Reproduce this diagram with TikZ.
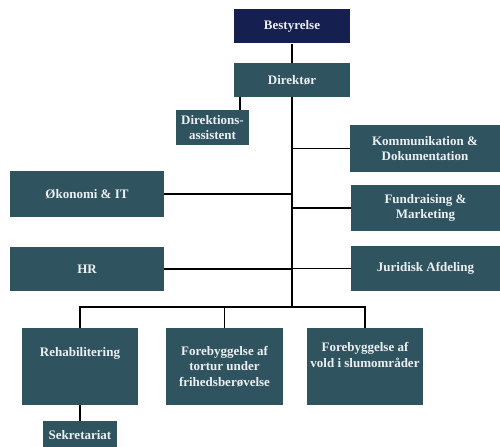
\documentclass[tikz,border=0pt]{standalone}
\usepackage{fontspec}
\setmainfont{Liberation Serif}
\usetikzlibrary{positioning, calc}

\definecolor{boardblue}{RGB}{22,32,80}
\definecolor{unitteal}{RGB}{47,83,95}
\definecolor{unittext}{RGB}{236,239,241}

\begin{document}
\begin{tikzpicture}[x=0.02cm, y=-0.02cm,
    font=\fontsize{7.4}{9}\selectfont\bfseries,
    unit/.style={fill=unitteal, text=unittext, align=center, inner sep=0pt},
    link/.style={draw=black, line width=1pt}]

% Manually size the picture
\useasboundingbox (0, 0) rectangle (500, 446);

% Top of the tree
\node[unit, fill=boardblue, minimum width=2.32cm, minimum height=0.7cm] (board) at (292, 26) {Bestyrelse};
\node[unit, minimum width=2.32cm, minimum height=0.68cm] (dir) at (292, 80) {Direktør};
\draw[link] (board) -- (dir);

% Assistant under the director
\node[unit, minimum width=1.46cm, minimum height=0.7cm] (assist) at (212.5, 127.5) {Direktions-\\assistent};
\draw[link] ([xshift=0.55cm]assist.north) -- ([xshift=0.55cm]assist.north |- dir.south);

% Spine down to the bus
\coordinate (bus) at (292, 307);
\draw[link] (dir.south) -- (bus);

% Staff units, right side
\node[unit, minimum width=3cm, minimum height=0.94cm] (komm) at (425, 148.5) {Kommunikation \&\\Dokumentation};
\node[unit, minimum width=2.98cm, minimum height=0.92cm] (fund) at (425.5, 208) {Fundraising \&\\Marketing};
\node[unit, minimum width=2.98cm, minimum height=0.9cm] (jur) at (425.5, 268.5) {Juridisk Afdeling};
\foreach \n in {komm, fund, jur}
  \draw[link] (\n.west) -- (\n.west -| bus);

% Staff units, left side
\node[unit, minimum width=3.08cm, minimum height=0.92cm] (okon) at (87, 194) {Økonomi \& IT};
\node[unit, minimum width=3.08cm, minimum height=0.9cm] (hr) at (87, 269) {HR};
\foreach \n in {okon, hr}
  \draw[link] (\n.east) -- (\n.east -| bus);

% Line units
\node[unit, minimum width=2.32cm, minimum height=1.54cm, text depth=17pt] (rehab) at (80, 366.5) {Rehabilitering};
\node[unit, minimum width=2.34cm, minimum height=1.54cm] (tortur) at (224.5, 366.5) {Forebyggelse af\\tortur under\\frihedsberøvelse};
\node[unit, minimum width=2.32cm, minimum height=1.54cm, text depth=13pt] (vold) at (365, 366.5) {Forebyggelse af\\vold i slumområder};
\draw[link] (rehab.north) |- (bus) -| (vold.north);
\draw[link] (tortur.north) -- (tortur.north |- bus);

% Secretariat
\node[unit, minimum width=1.48cm, minimum height=0.56cm] (sek) at (80, 435) {Sekretariat};
\draw[link] (rehab) -- (sek);

\end{tikzpicture}
\end{document}
